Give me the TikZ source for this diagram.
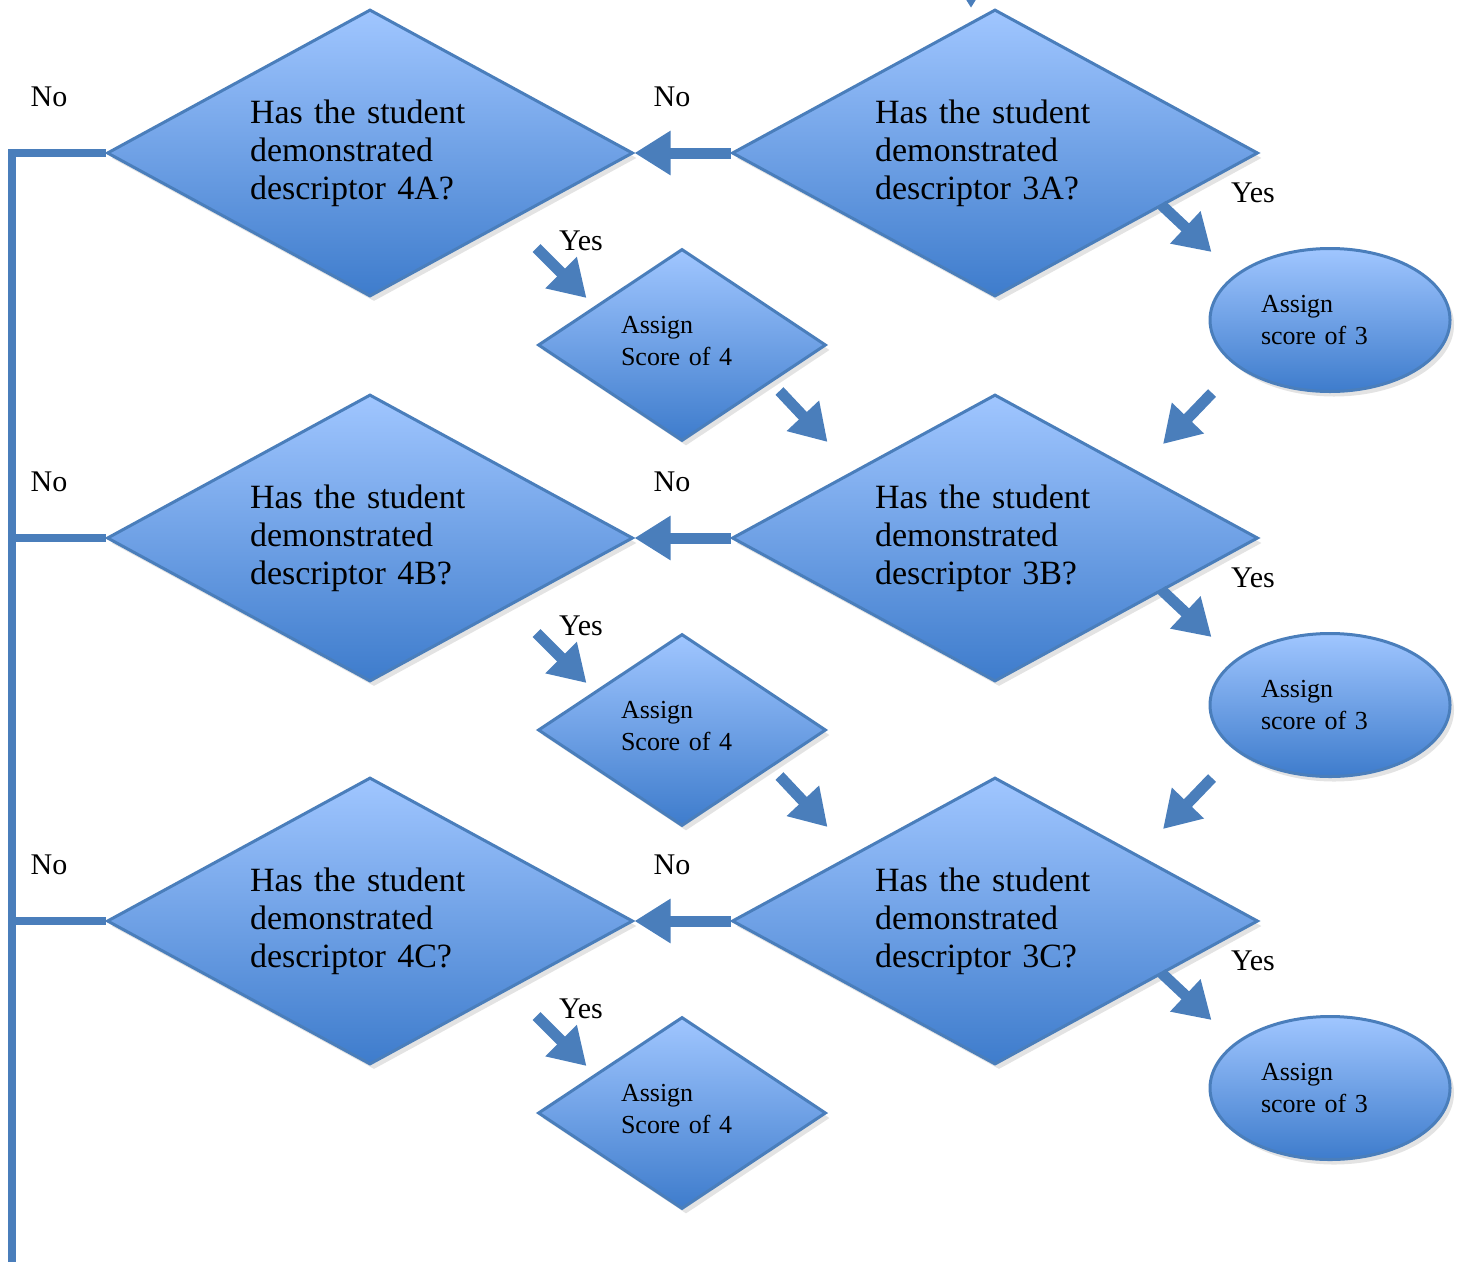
\documentclass[tikz,border=0pt]{standalone}
\usepackage{fontspec}
\setmainfont{Liberation Serif}
\usetikzlibrary{arrows.meta,positioning,shapes.geometric,shadows,calc}
\definecolor{flowtop}{RGB}{160,198,255}
\definecolor{flowbot}{RGB}{62,124,204}
\definecolor{flowline}{RGB}{74,126,187}

\tikzset{
  boxshadow/.style={drop shadow={opacity=0.22, shadow xshift=4pt, shadow yshift=-5pt}},
  question/.style={diamond, shape aspect=1.83, draw=flowline, line width=3pt,
    top color=flowtop, bottom color=flowbot,
    minimum width=526pt, minimum height=287pt, inner sep=0pt, align=left, text width=240pt,
    font=\fontsize{34}{38}\selectfont, boxshadow},
  scorefour/.style={diamond, shape aspect=1.5, draw=flowline, line width=3pt,
    top color=flowtop, bottom color=flowbot,
    minimum width=288pt, minimum height=192pt, inner sep=0pt, align=left, text width=122pt,
    font=\fontsize{26}{32}\selectfont, boxshadow},
  scorethree/.style={ellipse, draw=flowline, line width=3pt, top color=flowtop, bottom color=flowbot,
    minimum width=240pt, minimum height=143pt, inner sep=0pt, align=left, text width=138pt,
    font=\fontsize{26}{32}\selectfont, boxshadow},
  answer/.style={font=\fontsize{30}{34}\selectfont},
  blk/.style={-{Triangle[length=36pt,width=42pt]}, line width=11pt, draw=flowline},
  trunk/.style={line width=8pt, draw=flowline}
}

\begin{document}
\begin{tikzpicture}[x=1pt,y=-1pt]
  \useasboundingbox (0,0) rectangle (1463,1261);

  % questions, scores and labels, one row per descriptor
  \foreach \r/\y in {A/153,B/538,C/921}{
    \node[question] (d4\r) at (370,\y) {Has the student\\demonstrated\\descriptor 4\r?};
    \node[question] (d3\r) at (995,\y) {Has the student\\demonstrated\\descriptor 3\r?};
    \node[scorefour] (score4\r) at (682,\y+192) {Assign\\Score of 4\vspace*{8pt}};
    \node[scorethree] (score3\r) at (1330,\y+167) {Assign\\score of 3};
    \node[answer] (no4\r) at (49,\y-56) {No};
    \node[answer] (no3\r) at (672,\y-56) {No};
    \node[answer] (yes4\r) at (581,\y+88) {Yes};
    \node[answer] (yes3\r) at (1253,\y+40) {Yes};
    \draw[blk] (d3\r.west) -- (d4\r.east);
    \draw[blk] ($(score4\r.west)+(0,-97)$) -- ++(50,50);
    \draw[blk] ($(d3\r.east)+(-98,52)$) -- ++(50,47);
  }

  % arrows on to the next row
  \foreach \r in {A,B}{
    \draw[blk] ($(score4\r.east)+(-48,46)$) -- ++(48,51);
    \draw[blk] ($(score3\r.center)+(-118,73)$) -- ++(-49,51);
  }

  % entry from above
  \coordinate (entry) at (971,-40);
  \draw[blk] (entry) -- (entry |- d3A.north);

  % "No" line down the left side
  \coordinate (trunkend) at (12,1275);
  \draw[trunk] (d4A.west) -| (trunkend);
  \draw[trunk] (d4B.west) -- (d4B.west -| trunkend);
  \draw[trunk] (d4C.west) -- (d4C.west -| trunkend);
\end{tikzpicture}
\end{document}
